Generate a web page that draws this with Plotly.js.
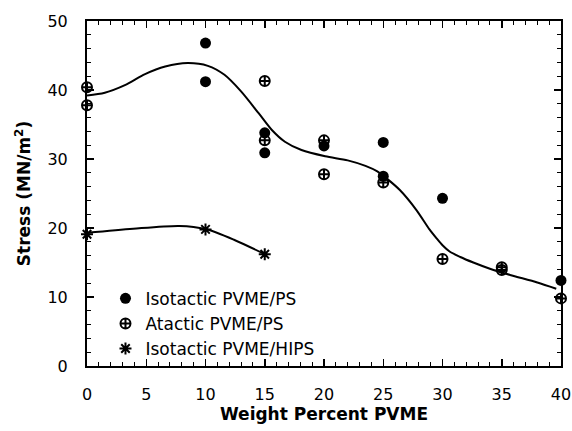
<!DOCTYPE html>
<html>
<head>
<meta charset="utf-8">
<script src="https://cdn.plot.ly/plotly-3.0.1.min.js"></script>
<style>html,body{margin:0;padding:0;background:#fff;}#chart{width:572px;height:431px;}</style>
</head>
<body>
<div id="chart"></div>
<script>
// Measured data points
const isoX = [10, 10, 15, 15, 20, 25, 25, 30, 40];
const isoY = [46.8, 41.2, 33.8, 30.9, 31.9, 32.4, 27.5, 24.3, 12.4];

const ataX = [0, 0, 15, 15, 20, 20, 25, 30, 35, 35, 40];
const ataY = [40.4, 37.8, 41.3, 32.7, 32.7, 27.8, 26.6, 15.5, 14.3, 13.9, 9.8];

const hipsX = [0, 10, 15];
const hipsY = [19.1, 19.8, 16.2];

// Smooth fitted curves
const fitX = [0, 1.5, 3.2, 4.9, 6.6, 8.5, 10.2, 11.6, 13.0, 14.5, 15.6, 16.7, 18.1, 20.1, 22.0, 23.5, 24.5, 25.2, 26.4, 27.8, 28.9, 29.5, 30.0, 30.6, 31.5, 32.6, 34.0, 35.7, 38.0, 39.6];
const fitY = [39.2, 39.6, 40.7, 42.3, 43.4, 43.9, 43.5, 42.2, 39.8, 36.6, 34.2, 32.5, 31.3, 30.4, 29.8, 29.0, 28.2, 27.3, 25.5, 22.6, 19.8, 18.5, 17.5, 16.6, 15.8, 15.0, 14.1, 13.2, 12.1, 11.2];

const hipsFitX = [0, 3.9, 7.8, 10, 12.4, 15];
const hipsFitY = [19.3, 19.9, 20.3, 19.85, 18.3, 16.2];

const seriesNames = ["Isotactic PVME/PS", "Atactic PVME/PS", "Isotactic PVME/HIPS"];

const FONT = "DejaVu Sans, sans-serif";

const traces = [
  {x: fitX, y: fitY, mode: "lines", line: {color: "#000", width: 2, shape: "spline", smoothing: 0.8}, showlegend: false, hoverinfo: "skip"},
  {x: hipsFitX, y: hipsFitY, mode: "lines", line: {color: "#000", width: 2, shape: "spline", smoothing: 0.8}, showlegend: false, hoverinfo: "skip"},
  {x: isoX, y: isoY, mode: "markers", name: seriesNames[0], cliponaxis: false,
   marker: {symbol: "circle", size: 11, color: "#000"}},
  {x: ataX, y: ataY, mode: "markers", name: seriesNames[1], cliponaxis: false,
   marker: {symbol: "circle-cross-open", size: 10, color: "#000", line: {width: 2, color: "#000"}}},
  {x: hipsX, y: hipsY, mode: "markers", name: seriesNames[2], cliponaxis: false,
   marker: {symbol: "asterisk-open", size: 10, color: "#000", line: {width: 2, color: "#000"}}}
];

const axisCommon = {
  showline: true, linecolor: "#000", linewidth: 2, mirror: "ticks",
  ticks: "inside", ticklen: 7, tickwidth: 1.5, tickcolor: "#000",
  showgrid: false, zeroline: false,
  tickfont: {family: FONT, size: 16, color: "#000"}
};

const layout = {
  width: 572, height: 431,
  margin: {l: 87, r: 11, t: 21, b: 65},
  paper_bgcolor: "#fff", plot_bgcolor: "#fff",
  font: {family: FONT, color: "#000"},
  xaxis: Object.assign({}, axisCommon, {
    range: [0, 40], dtick: 5, tick0: 0,
    ticklabelstandoff: 13,
    minor: {dtick: 1, ticks: "inside", ticklen: 4, tickwidth: 1, tickcolor: "#000", showgrid: false},
    title: {text: "Weight Percent PVME", font: {family: FONT, size: 17, weight: "bold", color: "#000"}, standoff: 2}
  }),
  yaxis: Object.assign({}, axisCommon, {
    range: [0, 50], dtick: 10, tick0: 0,
    ticklabelstandoff: 14,
    minor: {dtick: 2, ticks: "inside", ticklen: 4, tickwidth: 1, tickcolor: "#000", showgrid: false},
    title: {text: "Stress (MN/m<sup>2</sup>)", font: {family: FONT, size: 17, weight: "bold", color: "#000"}, standoff: 12}
  }),
  legend: {
    x: 0.039, y: 0.247, xanchor: "left", yanchor: "top",
    bgcolor: "rgba(0,0,0,0)", borderwidth: 0,
    font: {family: FONT, size: 17, color: "#000"},
    itemwidth: 30, tracegroupgap: 0
  },
  showlegend: true
};

Plotly.newPlot("chart", traces, layout, {displayModeBar: false, staticPlot: true});
</script>
</body>
</html>
